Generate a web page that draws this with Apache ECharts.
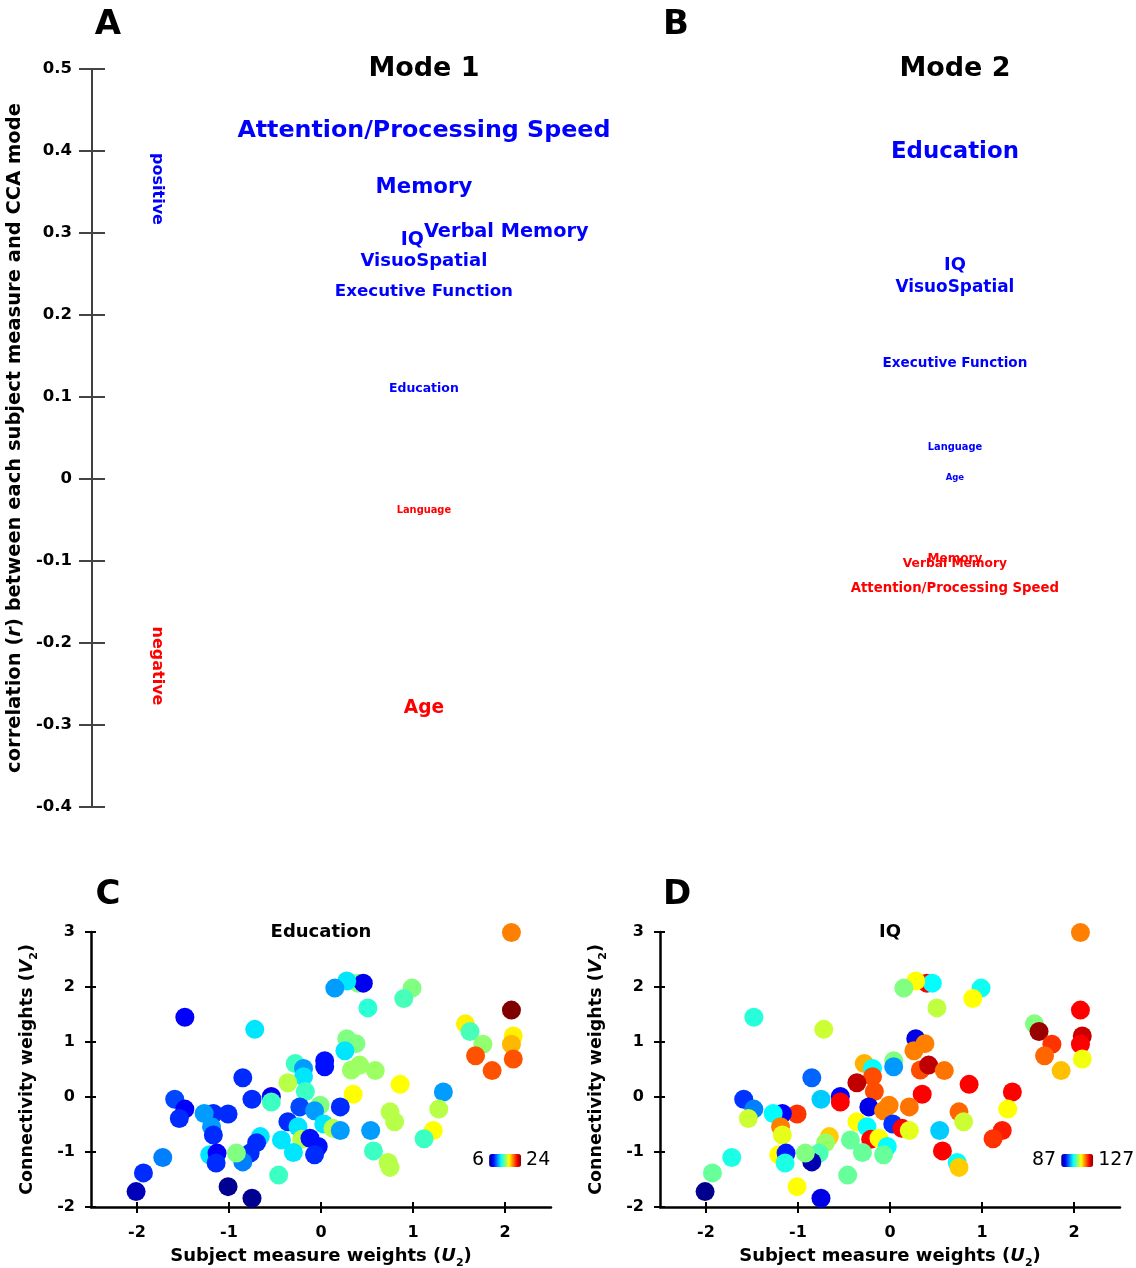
<!DOCTYPE html>
<html><head><meta charset="utf-8">
<script src="https://cdn.jsdelivr.net/npm/echarts@6/dist/echarts.min.js"></script>
<style>html,body{margin:0;padding:0;background:#fff}#c{width:1136px;height:1268px}</style>
</head><body><div id="c"></div>
<script>
const FONT = '"DejaVu Sans", "Liberation Sans", sans-serif';

// ---- Panel A / B : correlation of each subject measure with CCA mode ----
const modeTitles = ['Mode 1', 'Mode 2'];
const mode1Measures = ['Attention/Processing Speed','Memory','Verbal Memory','IQ','VisuoSpatial','Executive Function','Education','Language','Age'];
const mode1R        = [0.424, 0.355, 0.301, 0.291, 0.265, 0.228, 0.110, -0.038, -0.280];
const mode2Measures = ['Education','IQ','VisuoSpatial','Executive Function','Language','Age','Memory','Verbal Memory','Attention/Processing Speed'];
const mode2R        = [0.399, 0.261, 0.233, 0.141, 0.038, 0.001, -0.098, -0.104, -0.133];

// ---- Panel C / D : subject weights vs connectivity weights ----
const subjectU = [0.40,0.46,0.28,0.15,0.51,0.99,0.90,2.07,2.07,2.09,2.07,2.09,1.57,1.62,1.76,1.68,1.86,-1.48,-0.72,0.28,0.38,0.26,0.04,0.04,0.33,0.42,0.59,0.86,0.35,1.33,1.28,1.22,1.12,0.75,0.80,0.54,0.57,0.73,0.75,-0.28,-0.19,-0.19,-0.17,-0.36,-0.01,-0.23,-0.07,-0.36,-0.25,0.03,0.21,0.13,0.21,-0.21,-0.12,-0.03,-0.07,-0.30,-0.43,-0.46,-0.85,-0.75,-0.54,-0.54,-0.66,-0.70,-0.77,-0.85,-0.92,-1.01,-1.17,-1.27,-1.19,-1.17,-1.21,-1.13,-1.14,-1.59,-1.48,-1.54,-1.72,-1.93,-2.01,-1.01,-0.75];
const connectivityV = [2.07,2.07,2.11,1.98,1.62,1.98,1.79,2.99,1.58,1.11,0.96,0.69,1.33,1.19,0.96,0.75,0.48,1.45,1.23,1.06,0.97,0.84,0.66,0.55,0.49,0.58,0.48,0.23,0.05,0.09,-0.22,-0.61,-0.76,-0.27,-0.45,-0.61,-0.98,-1.19,-1.28,0.61,0.52,0.37,0.10,0.26,-0.15,-0.18,-0.25,-0.45,-0.54,-0.49,-0.18,-0.57,-0.61,-0.77,-0.75,-0.90,-1.05,-1.01,-0.78,-1.42,0.35,-0.04,0.01,-0.09,-0.72,-0.83,-1.02,-1.18,-1.02,-0.31,-0.30,-0.30,-0.54,-0.69,-1.05,-1.02,-1.20,-0.04,-0.22,-0.39,-1.10,-1.38,-1.72,-1.63,-1.84];
const education = [15,8,12.3,11,13.5,15,14,19.5,24,17.5,18.5,20.3,17.5,14,15.3,20.3,20.3,8.2,12.3,15,15,12.3,8.5,8.5,15.5,15.5,15.5,17.25,17.25,11,16,17.25,13.8,16,16,11,13.8,16,16,13.8,11,12.3,13.8,16,15,9.5,11,9,12.3,12.3,9,16,11,16,8.5,8.5,9,12.3,12.3,13.8,9,9,8,13.8,12.3,9,9,10.5,15,9,9,11,11,9,12.3,8.2,9,9.5,8.2,9,10.5,9,7,6.3,6.3];
const iq = [122,102,112,107,109.5,102.5,112,117,122,124,122,111.5,107,126,120,118,114.5,103.5,110,91,117,117,107,98,119,124.5,117.5,122,122,122,112,121,120,118,110,100,122,102,114,115,102,119,119,124.5,117,91,117,112,102,94,117.5,122,111,122,112,102,106,106,106,106,96,100,92,122,114,108,105,89,107,120,92,102,117,111,112,93,103,94,97,110,103,106,87.5,112,91];
const educationRange = [6, 24];
const iqRange = [87, 127];
const uTicks = [-2, -1, 0, 1, 2];

const jet = ['#000080','#0000FF','#0080FF','#00FFFF','#80FF80','#FFFF00','#FF8000','#FF0000','#800000'];
const alignMode1 = {'IQ': 'right', 'Verbal Memory': 'left'};

function wordItems(measures, rs, modeIdx, aligns) {
  return measures.map((m, i) => {
    const r = rs[i];
    const lab = {
      fontSize: 8.5 + 36 * Math.abs(r),
      color: r >= 0 ? '#0000FF' : '#FF0000',
      align: (aligns && aligns[m]) ? aligns[m] : 'center'
    };
    return { name: m, value: [modeIdx, r], label: lab };
  });
}
const wordData = wordItems(mode1Measures, mode1R, 1, alignMode1)
  .concat(wordItems(mode2Measures, mode2R, 2, null));

const eduData = subjectU.map((u, i) => [u, connectivityV[i], education[i]]);
const iqData = subjectU.map((u, i) => [u, connectivityV[i], iq[i]]);

const black = '#000';
const tickLabel = { fontFamily: FONT, fontWeight: 'bold', fontSize: 16, color: black };

function scatterXAxes(grid) {
  return [
    { type: 'value', gridIndex: grid, position: 'bottom', min: -2.5, max: 2.5,
      axisLine: { show: true, onZero: false, lineStyle: { color: black, width: 2.5 } },
      axisTick: { show: true, length: 6, customValues: uTicks, lineStyle: { color: black, width: 2 } },
      axisLabel: Object.assign({ margin: 18, customValues: uTicks }, tickLabel),
      splitLine: { show: false },
      name: 'Subject measure weights ({i|U}{s|2})', nameLocation: 'middle', nameGap: 37,
      nameTextStyle: { fontFamily: FONT, fontWeight: 'bold', fontSize: 18, color: black,
        rich: { i: { fontFamily: FONT, fontWeight: 'bold', fontStyle: 'italic', fontSize: 18 },
                s: { fontFamily: FONT, fontWeight: 'bold', fontSize: 11, padding: [14, 0, 0, 0] } } } },
    { type: 'value', gridIndex: grid, position: 'bottom', min: -2.5, max: 2.5,
      axisLine: { show: false, onZero: false },
      axisTick: { show: true, inside: true, length: 5, customValues: uTicks, lineStyle: { color: black, width: 2 } },
      axisLabel: { show: false }, splitLine: { show: false } }
  ];
}
function scatterYAxes(grid) {
  return [
    { type: 'value', gridIndex: grid, position: 'left', min: -2, max: 3, interval: 1,
      axisLine: { show: true, onZero: false, lineStyle: { color: black, width: 2.5 } },
      axisTick: { show: true, length: 6, lineStyle: { color: black, width: 2 } },
      axisLabel: Object.assign({ margin: 16 }, tickLabel),
      splitLine: { show: false },
      name: 'Connectivity weights ({i|V}{s|2})', nameLocation: 'middle', nameGap: 51, nameRotate: 90,
      nameTextStyle: { fontFamily: FONT, fontWeight: 'bold', fontSize: 17.5, color: black,
        rich: { i: { fontFamily: FONT, fontWeight: 'bold', fontStyle: 'italic', fontSize: 17.5 },
                s: { fontFamily: FONT, fontWeight: 'bold', fontSize: 11, padding: [14, 0, 0, 0] } } } },
    { type: 'value', gridIndex: grid, position: 'left', min: -2, max: 3, interval: 1,
      axisLine: { show: false, onZero: false },
      axisTick: { show: true, inside: true, length: 5, lineStyle: { color: black, width: 2 } },
      axisLabel: { show: false }, splitLine: { show: false } }
  ];
}

function txt(text, x, y, size, opts) {
  return Object.assign({ type: 'text', x: x, y: y, silent: true,
    style: Object.assign({ text: text, font: 'bold ' + size + 'px ' + FONT, fill: black,
      textAlign: 'center', textVerticalAlign: 'middle' }, (opts && opts.style) || {}) },
    (opts && opts.el) || {});
}

const chart = echarts.init(document.getElementById('c'), null, { renderer: 'canvas' });
const option = {
  animation: false,
  backgroundColor: '#fff',
  grid: [
    { left: 92, top: 69, width: 1044, height: 738, outerBoundsMode: 'none', containLabel: false },
    { left: 91, top: 932, width: 460, height: 275, outerBoundsMode: 'none', containLabel: false },
    { left: 660, top: 932, width: 460, height: 275, outerBoundsMode: 'none', containLabel: false }
  ],
  xAxis: [
    { type: 'value', gridIndex: 0, min: 0.375, max: 2.341, show: false }
  ].concat(scatterXAxes(1), scatterXAxes(2)),
  yAxis: [
    { type: 'value', gridIndex: 0, position: 'left', min: -0.4, max: 0.5, interval: 0.1,
      axisLine: { show: true, onZero: false, lineStyle: { color: black, width: 1.5 } },
      axisTick: { show: true, length: 13, lineStyle: { color: '#444', width: 2 } },
      axisLabel: Object.assign({ margin: 20 }, tickLabel, { fontSize: 16.5 }),
      splitLine: { show: false },
      name: 'correlation ({i|r}) between each subject measure and CCA mode',
      nameLocation: 'middle', nameGap: 61, nameRotate: 90,
      nameTextStyle: { fontFamily: FONT, fontWeight: 'bold', fontSize: 19.5, color: black,
        rich: { i: { fontFamily: FONT, fontWeight: 'bold', fontStyle: 'italic', fontSize: 19.5 } } } },
    { type: 'value', gridIndex: 0, position: 'left', min: -0.4, max: 0.5, interval: 0.1,
      axisLine: { show: false, onZero: false },
      axisTick: { show: true, inside: true, length: 13, lineStyle: { color: '#444', width: 2 } },
      axisLabel: { show: false }, splitLine: { show: false } }
  ].concat(scatterYAxes(1), scatterYAxes(2)),
  visualMap: [
    { type: 'continuous', seriesIndex: 1, dimension: 2, min: educationRange[0], max: educationRange[1],
      orient: 'horizontal', left: 457, top: 1136, itemWidth: 13, itemHeight: 32,
      text: [String(educationRange[1]), String(educationRange[0])], textGap: 5, calculable: false,
      hoverLink: false,
      textStyle: { fontFamily: FONT, fontSize: 19, color: black },
      inRange: { color: jet } },
    { type: 'continuous', seriesIndex: 2, dimension: 2, min: iqRange[0], max: iqRange[1],
      orient: 'horizontal', left: 1017, top: 1136, itemWidth: 13, itemHeight: 32,
      text: [String(iqRange[1]), String(iqRange[0])], textGap: 5, calculable: false,
      hoverLink: false,
      textStyle: { fontFamily: FONT, fontSize: 19, color: black },
      inRange: { color: jet } }
  ],
  series: [
    { type: 'scatter', xAxisIndex: 0, yAxisIndex: 0, data: wordData, symbolSize: 1, clip: false,
      itemStyle: { color: 'rgba(255,255,255,0)' }, silent: true,
      label: { show: true, position: [0.5, 0.5], formatter: p => p.name,
        fontFamily: FONT, fontWeight: 'bold', verticalAlign: 'middle',
        textBorderWidth: 0, opacity: 1 },
      labelLayout: { hideOverlap: false },
      emphasis: { disabled: true } },
    { type: 'scatter', xAxisIndex: 1, yAxisIndex: 2, data: eduData, symbolSize: 19, clip: false,
      itemStyle: { opacity: 1 }, emphasis: { disabled: true } },
    { type: 'scatter', xAxisIndex: 3, yAxisIndex: 4, data: iqData, symbolSize: 19, clip: false,
      itemStyle: { opacity: 1 }, emphasis: { disabled: true } }
  ],
  graphic: [
    txt('A', 108, 25, 34), txt('B', 676, 25, 34), txt('C', 108, 895, 34), txt('D', 677, 895, 34),
    txt(modeTitles[0], 424, 69, 27), txt(modeTitles[1], 955, 69, 27),
    txt('Education', 321, 932, 18), txt('IQ', 890, 932, 18),
    txt('positive', 157, 189, 16, { style: { fill: '#0000FF' }, el: { rotation: -Math.PI / 2 } }),
    txt('negative', 157, 666, 16, { style: { fill: '#FF0000' }, el: { rotation: -Math.PI / 2 } })
  ]
};
chart.setOption(option);
</script></body></html>
